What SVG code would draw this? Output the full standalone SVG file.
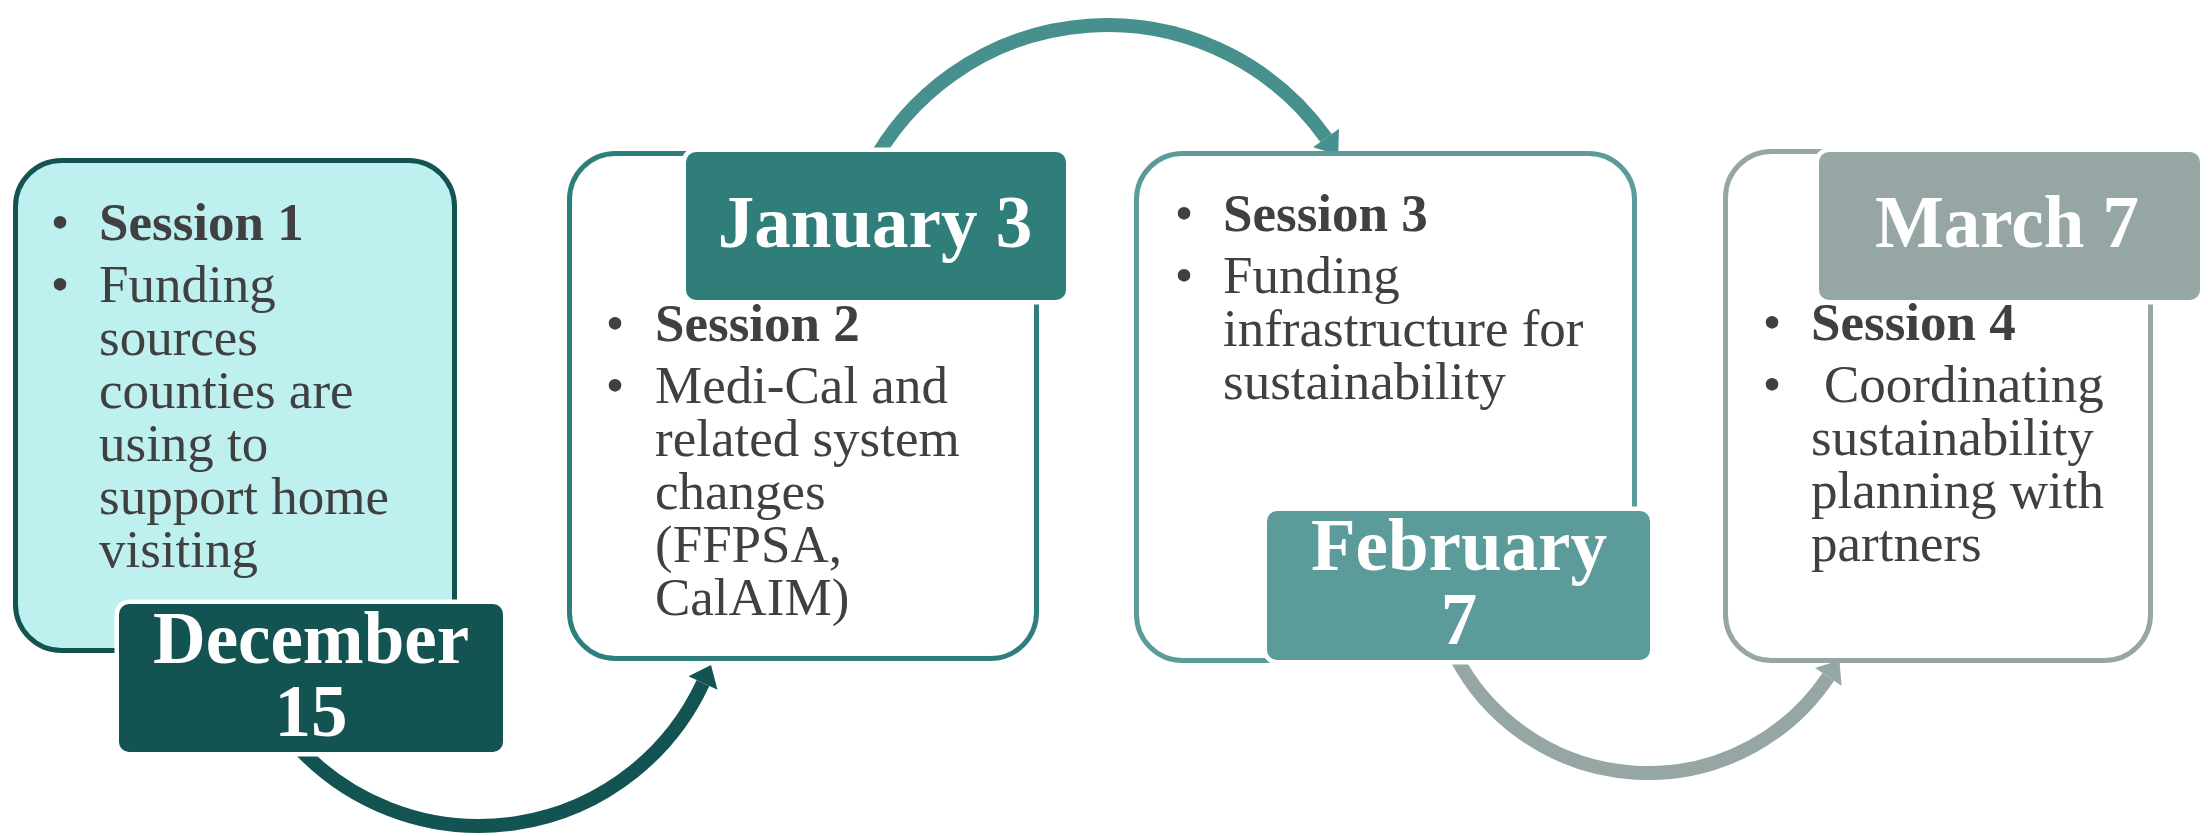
<svg xmlns="http://www.w3.org/2000/svg" width="2208" height="836" viewBox="0 0 2208 836">
<style>
.t{font-family:'Liberation Serif','Times New Roman',serif;font-size:53px;fill:#404040}
.b{font-weight:bold}
.bul{text-anchor:middle}
.title{font-family:'Liberation Serif','Times New Roman',serif;font-size:73px;font-weight:bold;fill:#ffffff;text-anchor:middle}
.lbl{stroke:#ffffff;stroke-width:9;paint-order:stroke}
.box{stroke-width:5}
.arc{fill:none;stroke-width:14}
</style>
<rect width="2208" height="836" fill="#ffffff"/>
<g id="connectors">
  <path class="arc" d="M 296.1 745 A 247 247 0 0 0 703 683" stroke="#135452" stroke-width="13"/>
  <polygon points="711,665 717.5,689.7 688.5,676.3" fill="#135452"/>
  <path class="arc" d="M 869.1 170 A 268.2 268.2 0 0 1 1326 138" stroke="#46908D" stroke-width="15"/>
  <polygon points="1338.2,155.1 1339,128.7 1313,147.3" fill="#46908D"/>
  <path class="arc" d="M 1454.9 655 A 217 217 0 0 0 1828.3 676.8" stroke="#95A6A5"/>
  <polygon points="1839.4,660.2 1841.6,685.7 1815,667.9" fill="#95A6A5"/>
</g>
<g id="node1">
  <rect class="box" x="15.5" y="160.5" width="439" height="490" rx="46" fill="#BDF0EF" stroke="#135452"/>
  <text class="t bul" x="60" y="240">•</text>
  <text class="t b" x="99" y="240">Session 1</text>
  <text class="t bul" x="60" y="302">•</text>
  <text class="t" x="99" y="302">Funding</text>
  <text class="t" x="99" y="355">sources</text>
  <text class="t" x="99" y="408">counties are</text>
  <text class="t" x="99" y="461">using to</text>
  <text class="t" x="99" y="514">support home</text>
  <text class="t" x="99" y="567">visiting</text>
  <rect class="lbl" x="119" y="604" width="384" height="148" rx="10" fill="#135452"/>
  <text class="title" x="311" y="663" font-size="72">December</text>
  <text class="title" x="311" y="736" font-size="72">15</text>
</g>
<g id="node2">
  <rect class="box" x="569.5" y="153.5" width="467" height="505" rx="46" fill="#ffffff" stroke="#2E7F7B"/>
  <rect class="lbl" x="686" y="152" width="380" height="148" rx="10" fill="#2F7E7A"/>
  <text class="title" x="875" y="247" font-size="74">January 3</text>
  <text class="t bul" x="615" y="341">•</text>
  <text class="t b" x="655" y="341">Session 2</text>
  <text class="t bul" x="615" y="403">•</text>
  <text class="t" x="655" y="403">Medi-Cal and</text>
  <text class="t" x="655" y="456">related system</text>
  <text class="t" x="655" y="509">changes</text>
  <text class="t" x="655" y="562">(FFPSA,</text>
  <text class="t" x="655" y="615">CalAIM)</text>
</g>
<g id="node3">
  <rect class="box" x="1136.5" y="153.5" width="498" height="507" rx="46" fill="#ffffff" stroke="#5B9B9A"/>
  <text class="t bul" x="1184" y="231">•</text>
  <text class="t b" x="1223" y="231">Session 3</text>
  <text class="t bul" x="1184" y="293">•</text>
  <text class="t" x="1223" y="293">Funding</text>
  <text class="t" x="1223" y="346">infrastructure for</text>
  <text class="t" x="1223" y="399">sustainability</text>
  <rect class="lbl" x="1267" y="511" width="383" height="149" rx="10" fill="#5B9B9A"/>
  <text class="title" x="1459" y="570">February</text>
  <text class="title" x="1459" y="644">7</text>
</g>
<g id="node4">
  <rect class="box" x="1725.5" y="151.5" width="425" height="509" rx="46" fill="#ffffff" stroke="#95A6A5"/>
  <rect class="lbl" x="1819" y="152" width="381" height="148" rx="10" fill="#95A6A5"/>
  <text class="title" x="2007" y="247" font-size="72">March 7</text>
  <text class="t bul" x="1772" y="340">•</text>
  <text class="t b" x="1811" y="340">Session 4</text>
  <text class="t bul" x="1772" y="402">•</text>
  <text class="t" x="1824" y="402">Coordinating</text>
  <text class="t" x="1811" y="455">sustainability</text>
  <text class="t" x="1811" y="508">planning with</text>
  <text class="t" x="1811" y="561">partners</text>
</g>
</svg>
